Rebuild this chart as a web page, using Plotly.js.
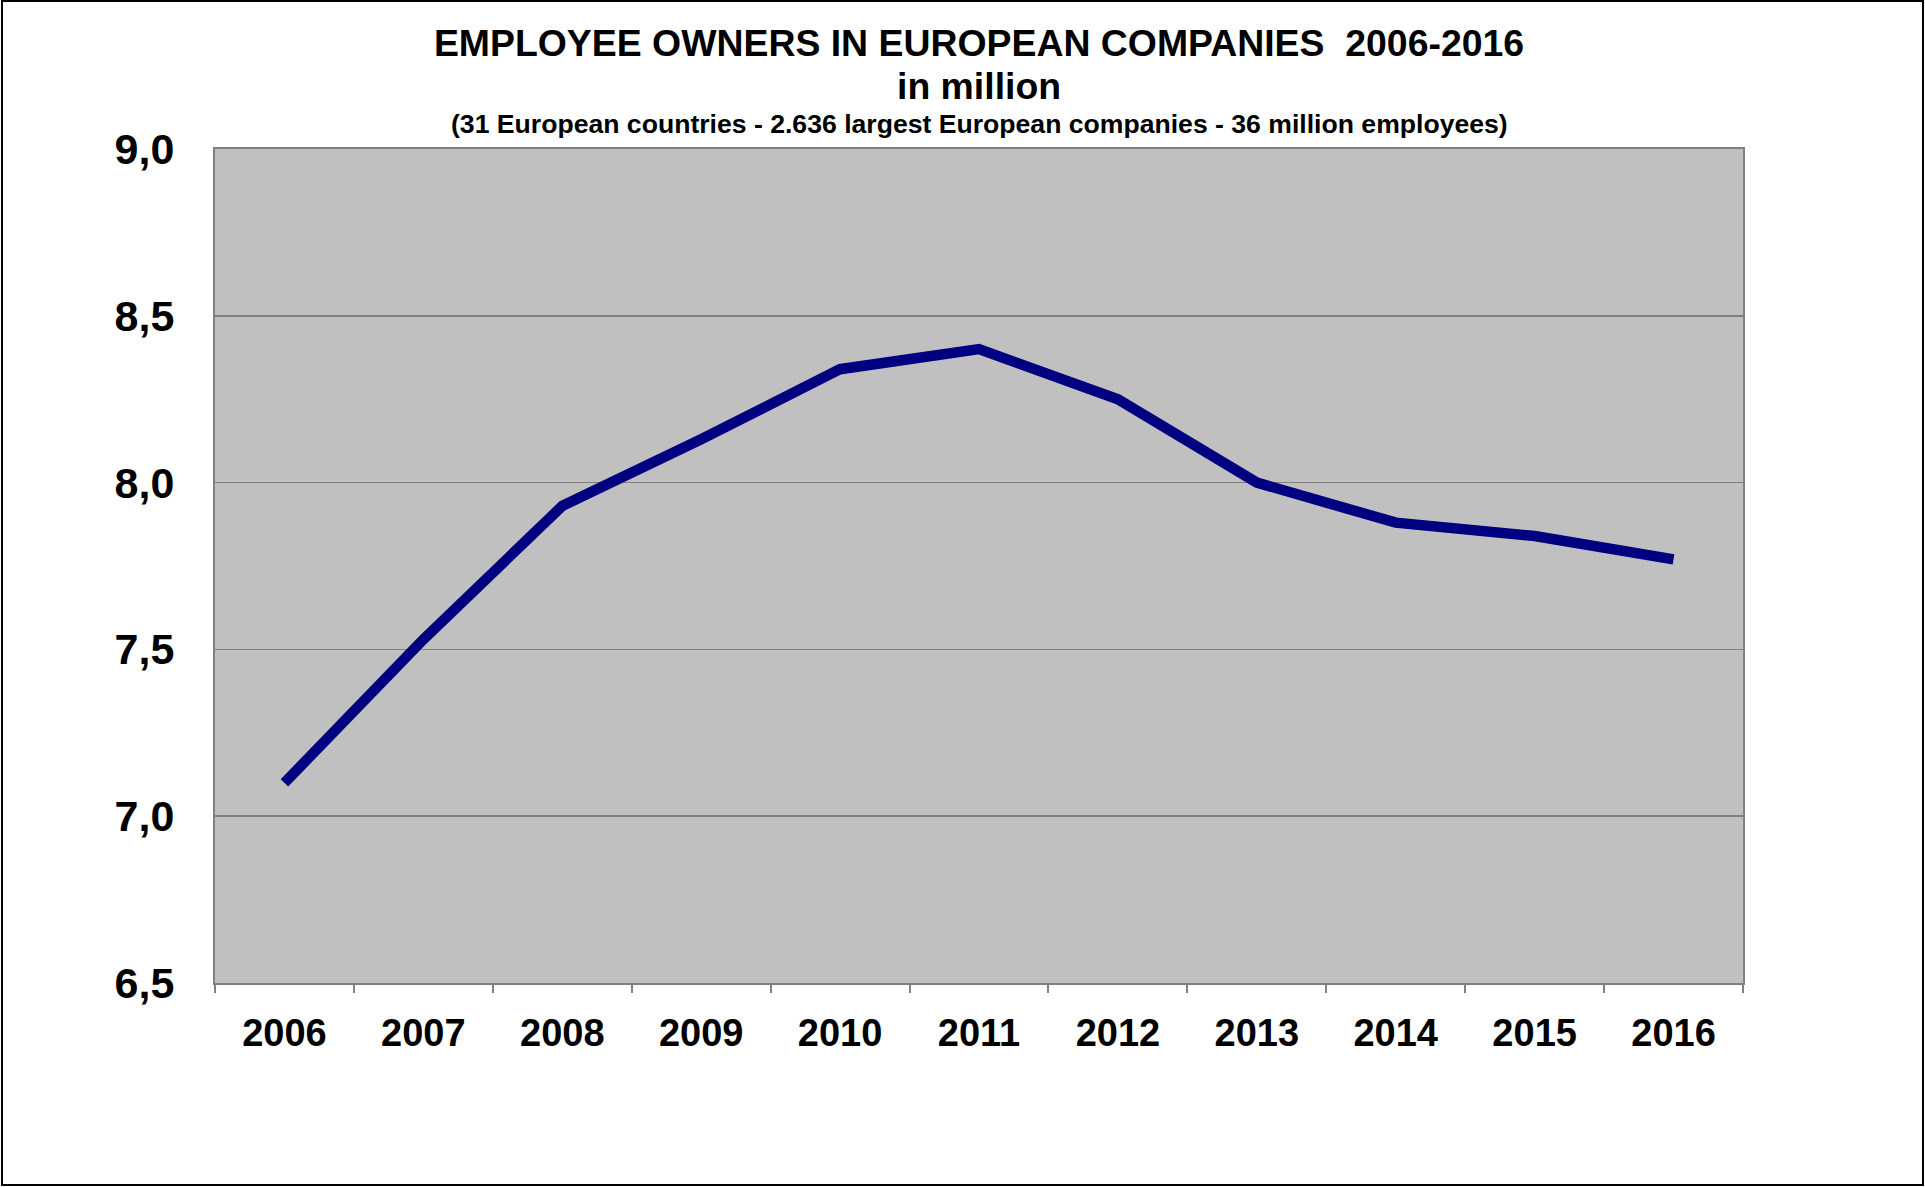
<!DOCTYPE html>
<html>
<head>
<meta charset="utf-8">
<script src="https://cdn.plot.ly/plotly-3.0.1.min.js"></script>
<style>
  html, body { margin: 0; padding: 0; background: #fff; }
  #chart { position: absolute; left: 0; top: 0; width: 1925px; height: 1187px; }
  #frame { position: absolute; left: 1px; top: 0px; width: 1923px; height: 1186px;
           border: 2px solid #000; box-sizing: border-box; pointer-events: none; }
</style>
</head>
<body>
<div id="chart"></div>
<div id="frame"></div>
<script>
const years = ['2006', '2007', '2008', '2009', '2010', '2011', '2012', '2013', '2014', '2015', '2016'];
const employeeOwners = [7.10, 7.53, 7.93, 8.13, 8.34, 8.40, 8.25, 8.00, 7.88, 7.84, 7.77];
const yTickValues = [6.5, 7.0, 7.5, 8.0, 8.5, 9.0];

const titleMain = 'EMPLOYEE OWNERS IN EUROPEAN COMPANIES  2006-2016';
const titleUnit = 'in million';
const titleSub = '(31 European countries - 2.636 largest European companies - 36 million employees)';

const FONT = '"Liberation Sans", Arial, Helvetica, sans-serif';

const trace = {
  type: 'scatter',
  mode: 'lines',
  x: years,
  y: employeeOwners,
  line: { color: '#000080', width: 10.5 },
  hoverinfo: 'x+y'
};

const layout = {
  width: 1925,
  height: 1187,
  margin: { l: 215, r: 182, t: 149, b: 204, pad: 0 },
  paper_bgcolor: '#ffffff',
  plot_bgcolor: '#c0c0c0',
  showlegend: false,
  separators: ',.',
  font: { family: FONT, color: '#000000' },
  title: {
    text: '<b>' + titleMain + '</b>',
    font: { family: FONT, size: 37.4, color: '#000000' },
    xref: 'paper', x: 0.5, xanchor: 'center',
    yref: 'container', y: 1 - 43 / 1187, yanchor: 'middle'
  },
  annotations: [
    {
      text: '<b>' + titleUnit + '</b>',
      xref: 'paper', x: 0.5, xanchor: 'center',
      yref: 'paper', y: 1 + (149 - 86) / 834, yanchor: 'middle',
      showarrow: false,
      font: { family: FONT, size: 37.4, color: '#000000' }
    },
    {
      text: '<b>' + titleSub + '</b>',
      xref: 'paper', x: 0.5, xanchor: 'center',
      yref: 'paper', y: 1 + (149 - 124) / 834, yanchor: 'middle',
      showarrow: false,
      font: { family: FONT, size: 26.6, color: '#000000' }
    }
  ],
  xaxis: {
    type: 'category',
    range: [-0.5, 10.5],
    tickson: 'boundaries',
    ticks: 'outside',
    ticklen: 8,
    tickwidth: 2,
    tickcolor: '#808080',
    showgrid: false,
    showline: true,
    linecolor: '#808080',
    linewidth: 2,
    mirror: true,
    ticklabelstandoff: 15,
    tickfont: { family: FONT, size: 38, color: '#000000', weight: 'bold' },
    zeroline: false,
    fixedrange: true
  },
  yaxis: {
    range: [6.5, 9.0],
    tickvals: yTickValues,
    tickformat: '.1f',
    ticks: '',
    showgrid: true,
    gridcolor: '#808080',
    gridwidth: 1.5,
    showline: true,
    linecolor: '#808080',
    linewidth: 2,
    mirror: true,
    zeroline: false,
    ticklabelstandoff: 30,
    tickfont: { family: FONT, size: 43, color: '#000000', weight: 'bold' },
    fixedrange: true
  }
};

Plotly.newPlot('chart', [trace], layout, { displayModeBar: false, staticPlot: true });
</script>
</body>
</html>
